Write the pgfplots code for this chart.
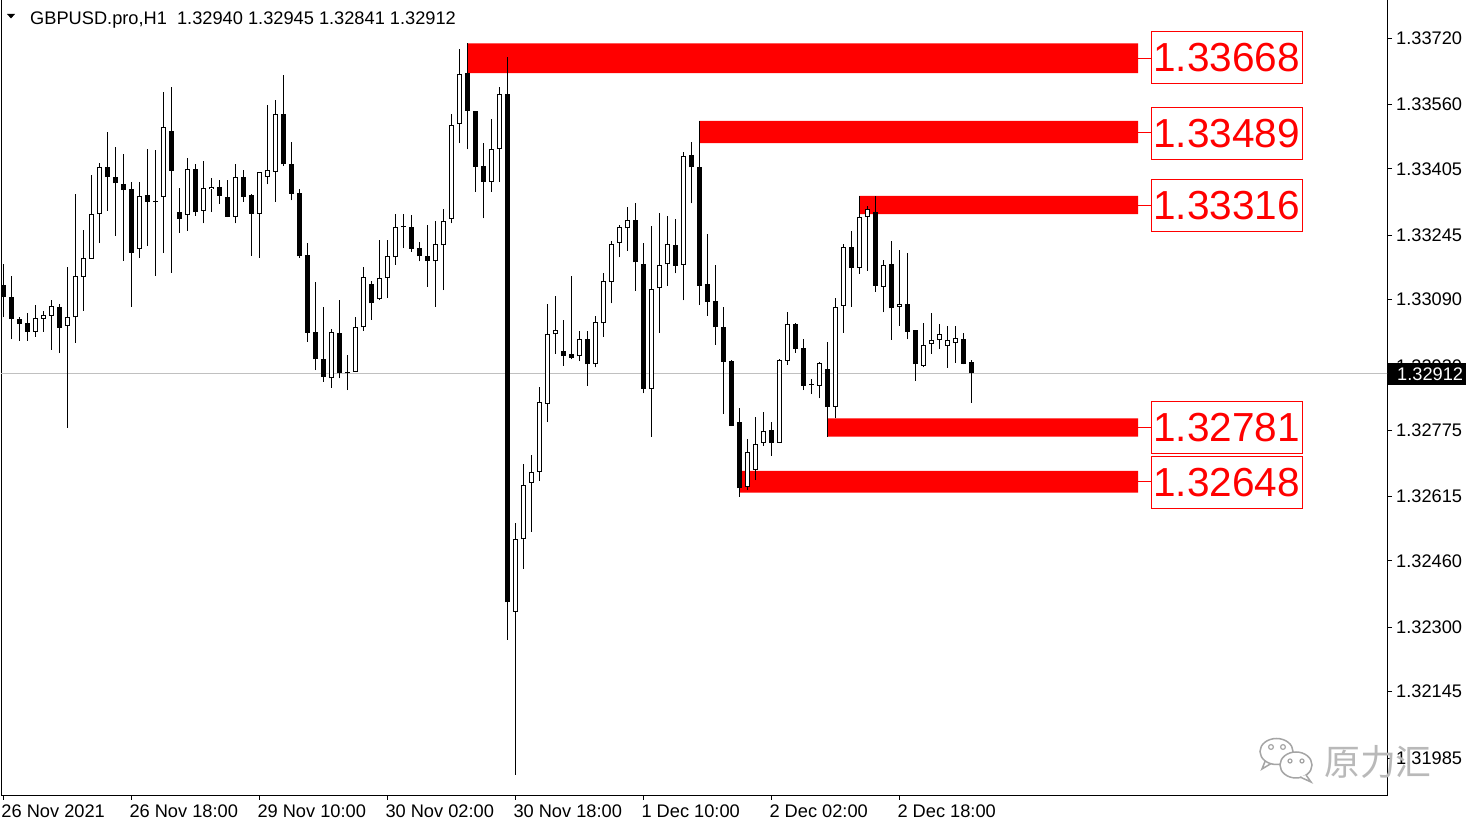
\documentclass[border=0pt]{standalone}
\usepackage{fontspec}
\setmainfont{Liberation Sans}
\newfontfamily\cjk{Noto Sans CJK SC}
\usepackage{pgfplots}
\usepackage{pgfplotstable}
\pgfplotsset{compat=1.18}

\definecolor{zred}{RGB}{255,0,0}
\definecolor{pline}{RGB}{192,192,192}
\definecolor{wm}{RGB}{165,165,165}
\definecolor{wmt}{RGB}{185,185,185}
\newcommand\tf{\fontsize{18.3}{18.3}\selectfont}

\pgfplotstableread{
i o h l c
0 1.33125 1.33176 1.33048 1.33096
1 1.33096 1.33147 1.32994 1.33043
2 1.33043 1.33047 1.32991 1.33031
3 1.33034 1.33057 1.32991 1.33013
4 1.33013 1.33077 1.33001 1.33045
5 1.33044 1.33063 1.33013 1.33052
6 1.33051 1.33089 1.32969 1.33074
7 1.33072 1.33080 1.32961 1.33022
8 1.33027 1.33168 1.32781 1.33047
9 1.33047 1.33344 1.32986 1.33146
10 1.33145 1.33258 1.33063 1.33190
11 1.33189 1.33391 1.33189 1.33296
12 1.33296 1.33419 1.33226 1.33409
13 1.33409 1.33495 1.33304 1.33386
14 1.33386 1.33457 1.33244 1.33370
15 1.33369 1.33441 1.33184 1.33354
16 1.33357 1.33374 1.33073 1.33203
17 1.33213 1.33373 1.33191 1.33340
18 1.33342 1.33453 1.33220 1.33326
19 1.33326 1.33451 1.33147 1.33325
20 1.33338 1.33590 1.33202 1.33505
21 1.33497 1.33602 1.33155 1.33401
22 1.33301 1.33360 1.33251 1.33285
23 1.33295 1.33432 1.33256 1.33405
24 1.33405 1.33417 1.33292 1.33301
25 1.33304 1.33424 1.33274 1.33358
26 1.33356 1.33383 1.33301 1.33362
27 1.33362 1.33378 1.33321 1.33341
28 1.33337 1.33378 1.33289 1.33290
29 1.33289 1.33416 1.33274 1.33385
30 1.33385 1.33403 1.33326 1.33338
31 1.33342 1.33344 1.33196 1.33297
32 1.33297 1.33397 1.33191 1.33397
33 1.33386 1.33559 1.33368 1.33403
34 1.33398 1.33571 1.33326 1.33538
35 1.33538 1.33632 1.33412 1.33416
36 1.33416 1.33471 1.33329 1.33345
37 1.33346 1.33356 1.33191 1.33194
38 1.33198 1.33227 1.32989 1.33010
39 1.33011 1.33133 1.32920 1.32946
40 1.32946 1.33073 1.32892 1.32903
41 1.32900 1.33019 1.32878 1.33013
42 1.33009 1.33089 1.32900 1.32912
43 1.32915 1.32957 1.32872 1.32912
44 1.32916 1.33049 1.32916 1.33023
45 1.33023 1.33168 1.33015 1.33144
46 1.33128 1.33136 1.33041 1.33081
47 1.33091 1.33234 1.33089 1.33142
48 1.33142 1.33234 1.33095 1.33194
49 1.33192 1.33297 1.33174 1.33266
50 1.33267 1.33297 1.33214 1.33264
51 1.33264 1.33294 1.33206 1.33213
52 1.33214 1.33228 1.33182 1.33194
53 1.33195 1.33270 1.33121 1.33184
54 1.33182 1.33280 1.33073 1.33223
55 1.33221 1.33308 1.33113 1.33280
56 1.33284 1.33538 1.33274 1.33512
57 1.33513 1.33694 1.33467 1.33633
58 1.33636 1.33708 1.33452 1.33545
59 1.33545 1.33545 1.33350 1.33410
60 1.33412 1.33467 1.33286 1.33374
61 1.33374 1.33525 1.33350 1.33453
62 1.33453 1.33602 1.33374 1.33585
63 1.33586 1.33676 1.32270 1.32360
64 1.32338 1.32551 1.31945 1.32512
65 1.32512 1.32694 1.32441 1.32643
66 1.32649 1.32716 1.32531 1.32675
67 1.32675 1.32880 1.32654 1.32843
68 1.32839 1.33079 1.32795 1.33006
69 1.33006 1.33099 1.32959 1.33017
70 1.32966 1.33041 1.32931 1.32953
71 1.32959 1.33147 1.32946 1.32950
72 1.32953 1.33014 1.32942 1.32994
73 1.32994 1.33014 1.32883 1.32934
74 1.32934 1.33051 1.32927 1.33035
75 1.33033 1.33153 1.33001 1.33135
76 1.33132 1.33231 1.33081 1.33223
77 1.33226 1.33270 1.33192 1.33264
78 1.33262 1.33313 1.33208 1.33282
79 1.33282 1.33322 1.33112 1.33180
80 1.33176 1.33227 1.32864 1.32875
81 1.32874 1.33268 1.32760 1.33116
82 1.33117 1.33300 1.33010 1.33174
83 1.33175 1.33292 1.33123 1.33224
84 1.33222 1.33284 1.33153 1.33172
85 1.33174 1.33447 1.33088 1.33437
86 1.33439 1.33469 1.33322 1.33409
87 1.33409 1.33521 1.33077 1.33124
88 1.33128 1.33248 1.33051 1.33085
89 1.33087 1.33174 1.32981 1.33023
90 1.33023 1.33072 1.32814 1.32940
91 1.32943 1.32945 1.32785 1.32785
92 1.32794 1.32828 1.32615 1.32635
93 1.32638 1.32753 1.32631 1.32722
94 1.32679 1.32806 1.32655 1.32742
95 1.32744 1.32820 1.32737 1.32773
96 1.32776 1.32794 1.32714 1.32744
97 1.32744 1.32946 1.32744 1.32945
98 1.32943 1.33061 1.32933 1.33031
99 1.33031 1.33034 1.32962 1.32971
100 1.32973 1.32994 1.32872 1.32883
101 1.32885 1.32898 1.32862 1.32884
102 1.32883 1.32940 1.32852 1.32937
103 1.32922 1.32987 1.32760 1.32832
104 1.32832 1.33093 1.32804 1.33073
105 1.33075 1.33223 1.33010 1.33216
106 1.33216 1.33255 1.33073 1.33167
107 1.33166 1.33340 1.33152 1.33289
108 1.33289 1.33316 1.33160 1.33309
109 1.33302 1.33340 1.33109 1.33124
110 1.33121 1.33186 1.33059 1.33174
111 1.33176 1.33231 1.32993 1.33069
112 1.33073 1.33210 1.33027 1.33080
113 1.33080 1.33203 1.32994 1.33013
114 1.33017 1.33017 1.32895 1.32934
115 1.32931 1.33033 1.32927 1.32981
116 1.32982 1.33057 1.32959 1.32992
117 1.32993 1.33031 1.32971 1.33007
118 1.32979 1.33027 1.32926 1.32992
119 1.32986 1.33027 1.32938 1.32997
120 1.32994 1.33009 1.32934 1.32936
121 1.32940 1.32945 1.32841 1.32912
}\candles

\begin{document}
\begin{tikzpicture}
\useasboundingbox (0,0) rectangle (1479bp,827bp);
\fill[white] (0,0) rectangle (1479bp,827bp);
\begin{axis}[
  at={(1bp,32bp)}, anchor=south west,
  scale only axis, width=1386bp, height=795bp,
  xmin=-0.2875, xmax=172.96,
  ymin=1.318959, ymax=1.338123,
  axis line style={black, line width=1bp},
  tick style={black, line width=1bp},
  tick align=outside,
  major tick length=5bp,
  ytick pos=right, yticklabel pos=right,
  xtick pos=bottom,
  ytick={1.31985,1.32145,1.32300,1.32460,1.32615,1.32775,1.32930,1.33090,1.33245,1.33405,1.33560,1.33720},
  yticklabels={1.31985,1.32145,1.32300,1.32460,1.32615,1.32775,1.32930,1.33090,1.33245,1.33405,1.33560,1.33720},
  xtick={0,16,32,48,64,80,96,112},
  xticklabels={26 Nov 2021,26 Nov 18:00,29 Nov 10:00,30 Nov 02:00,30 Nov 18:00,1 Dec 10:00,2 Dec 02:00,2 Dec 18:00},
  xticklabel style={anchor=north west, inner sep=0pt, xshift=-2bp, yshift=-5bp, font=\tf},
  yticklabel style={anchor=west, inner sep=0pt, xshift=4bp, font=\tf},
]
% supply / demand zones
\addplot[fill=zred, draw=none, forget plot] coordinates {(58,1.33636) (141.84,1.33636) (141.84,1.33708) (58,1.33708) (58,1.33636)};
\addplot[fill=zred, draw=none, forget plot] coordinates {(87,1.33467) (141.84,1.33467) (141.84,1.33521) (87,1.33521) (87,1.33467)};
\addplot[fill=zred, draw=none, forget plot] coordinates {(107,1.33296) (141.84,1.33296) (141.84,1.33340) (107,1.33340) (107,1.33296)};
\addplot[fill=zred, draw=none, forget plot] coordinates {(103,1.32760) (141.84,1.32760) (141.84,1.32804) (103,1.32804) (103,1.32760)};
\addplot[fill=zred, draw=none, forget plot] coordinates {(92,1.32625) (141.84,1.32625) (141.84,1.32677) (92,1.32677) (92,1.32625)};
% current price line
\addplot[pline, line width=1bp, forget plot] coordinates {(-1,1.32912) (174,1.32912)};
% wicks
\addplot[draw=none, mark=none, forget plot,
  error bars/.cd, y dir=plus, y explicit, error mark=none,
  error bar style={draw=black, line width=1bp, solid}]
  table[x=i, y=l, y error plus expr=\thisrow{h}-\thisrow{l}] {\candles};
% bodies (black outline / fill)
\addplot[draw=none, mark=none, forget plot,
  error bars/.cd, y dir=plus, y explicit, error mark=none,
  error bar style={draw=black, line width=5bp, solid}]
  table[x=i, y expr={min(\thisrow{o},\thisrow{c})},
        y error plus expr={max(abs(\thisrow{c}-\thisrow{o}),0.000025)}] {\candles};
% hollow interior of rising candles
\addplot[draw=none, mark=none, forget plot,
  error bars/.cd, y dir=plus, y explicit, error mark=none,
  error bar style={draw=white, line width=3bp, solid}]
  table[x=i, y expr={\thisrow{o}+0.000024},
        y error plus expr={\thisrow{c}>\thisrow{o} ? \thisrow{c}-\thisrow{o}-0.000048 : 0}] {\candles};
% connectors to labels
\addplot[zred, line width=1bp, forget plot] coordinates {(141.84,1.33672) (143.5,1.33672)};
\addplot[zred, line width=1bp, forget plot] coordinates {(141.84,1.33494) (143.5,1.33494)};
\addplot[zred, line width=1bp, forget plot] coordinates {(141.84,1.33318) (143.5,1.33318)};
\addplot[zred, line width=1bp, forget plot] coordinates {(141.84,1.32782) (143.5,1.32782)};
\addplot[zred, line width=1bp, forget plot] coordinates {(141.84,1.32651) (143.5,1.32651)};
\end{axis}
\begin{scope}[x=1bp, y=-1bp, shift={(0,827bp)}]
  \tikzset{lvl/.style={draw=zred, fill=white, text=zred, line width=1bp, minimum width=151bp, minimum height=52bp, inner sep=0pt, font=\fontsize{40.7}{40.7}\selectfont}}
  \node[lvl] at (1226.5,58) {1.33668};
  \node[lvl] at (1226.5,133.2) {1.33489};
  \node[lvl] at (1226.5,205.2) {1.33316};
  \node[lvl] at (1226.5,427.2) {1.32781};
  \node[lvl] at (1226.5,482.5) {1.32648};
  \fill[black] (7,14) -- (15,14) -- (11,18.5) -- cycle;
  \node[anchor=base west, inner sep=0pt, font=\tf] at (30,25) {GBPUSD.pro,H1\ \ 1.32940 1.32945 1.32841 1.32912};
  \fill[black] (1388,363) rectangle (1466,385);
  \node[anchor=west, inner sep=0pt, text=white, font=\tf] at (1397,374) {1.32912};
  % watermark (WeChat-style logo and account name)
  \draw[wm, line width=1.5bp, fill=white] (1266,759) -- (1262,769) -- (1272,763);
  \draw[wm, line width=1.5bp, fill=white] (1276.5,751.5) ellipse (16.5 and 13);
  \draw[wm, line width=1.2bp] (1271,747) circle (2.4);
  \draw[wm, line width=1.2bp] (1283,747) circle (2.4);
  \draw[wm, line width=1.5bp, fill=white] (1296,765) ellipse (16 and 13);
  \draw[wm, line width=1.5bp, fill=white] (1306,775) -- (1311,782) -- (1300,777);
  \draw[wm, line width=1.2bp] (1290,761) circle (2);
  \draw[wm, line width=1.2bp] (1302,761) circle (2);
  \node[anchor=west, inner sep=0pt, text=wmt, font=\cjk\fontsize{36}{36}\selectfont] at (1324,762) {原力汇};
\end{scope}
\end{tikzpicture}
\end{document}
